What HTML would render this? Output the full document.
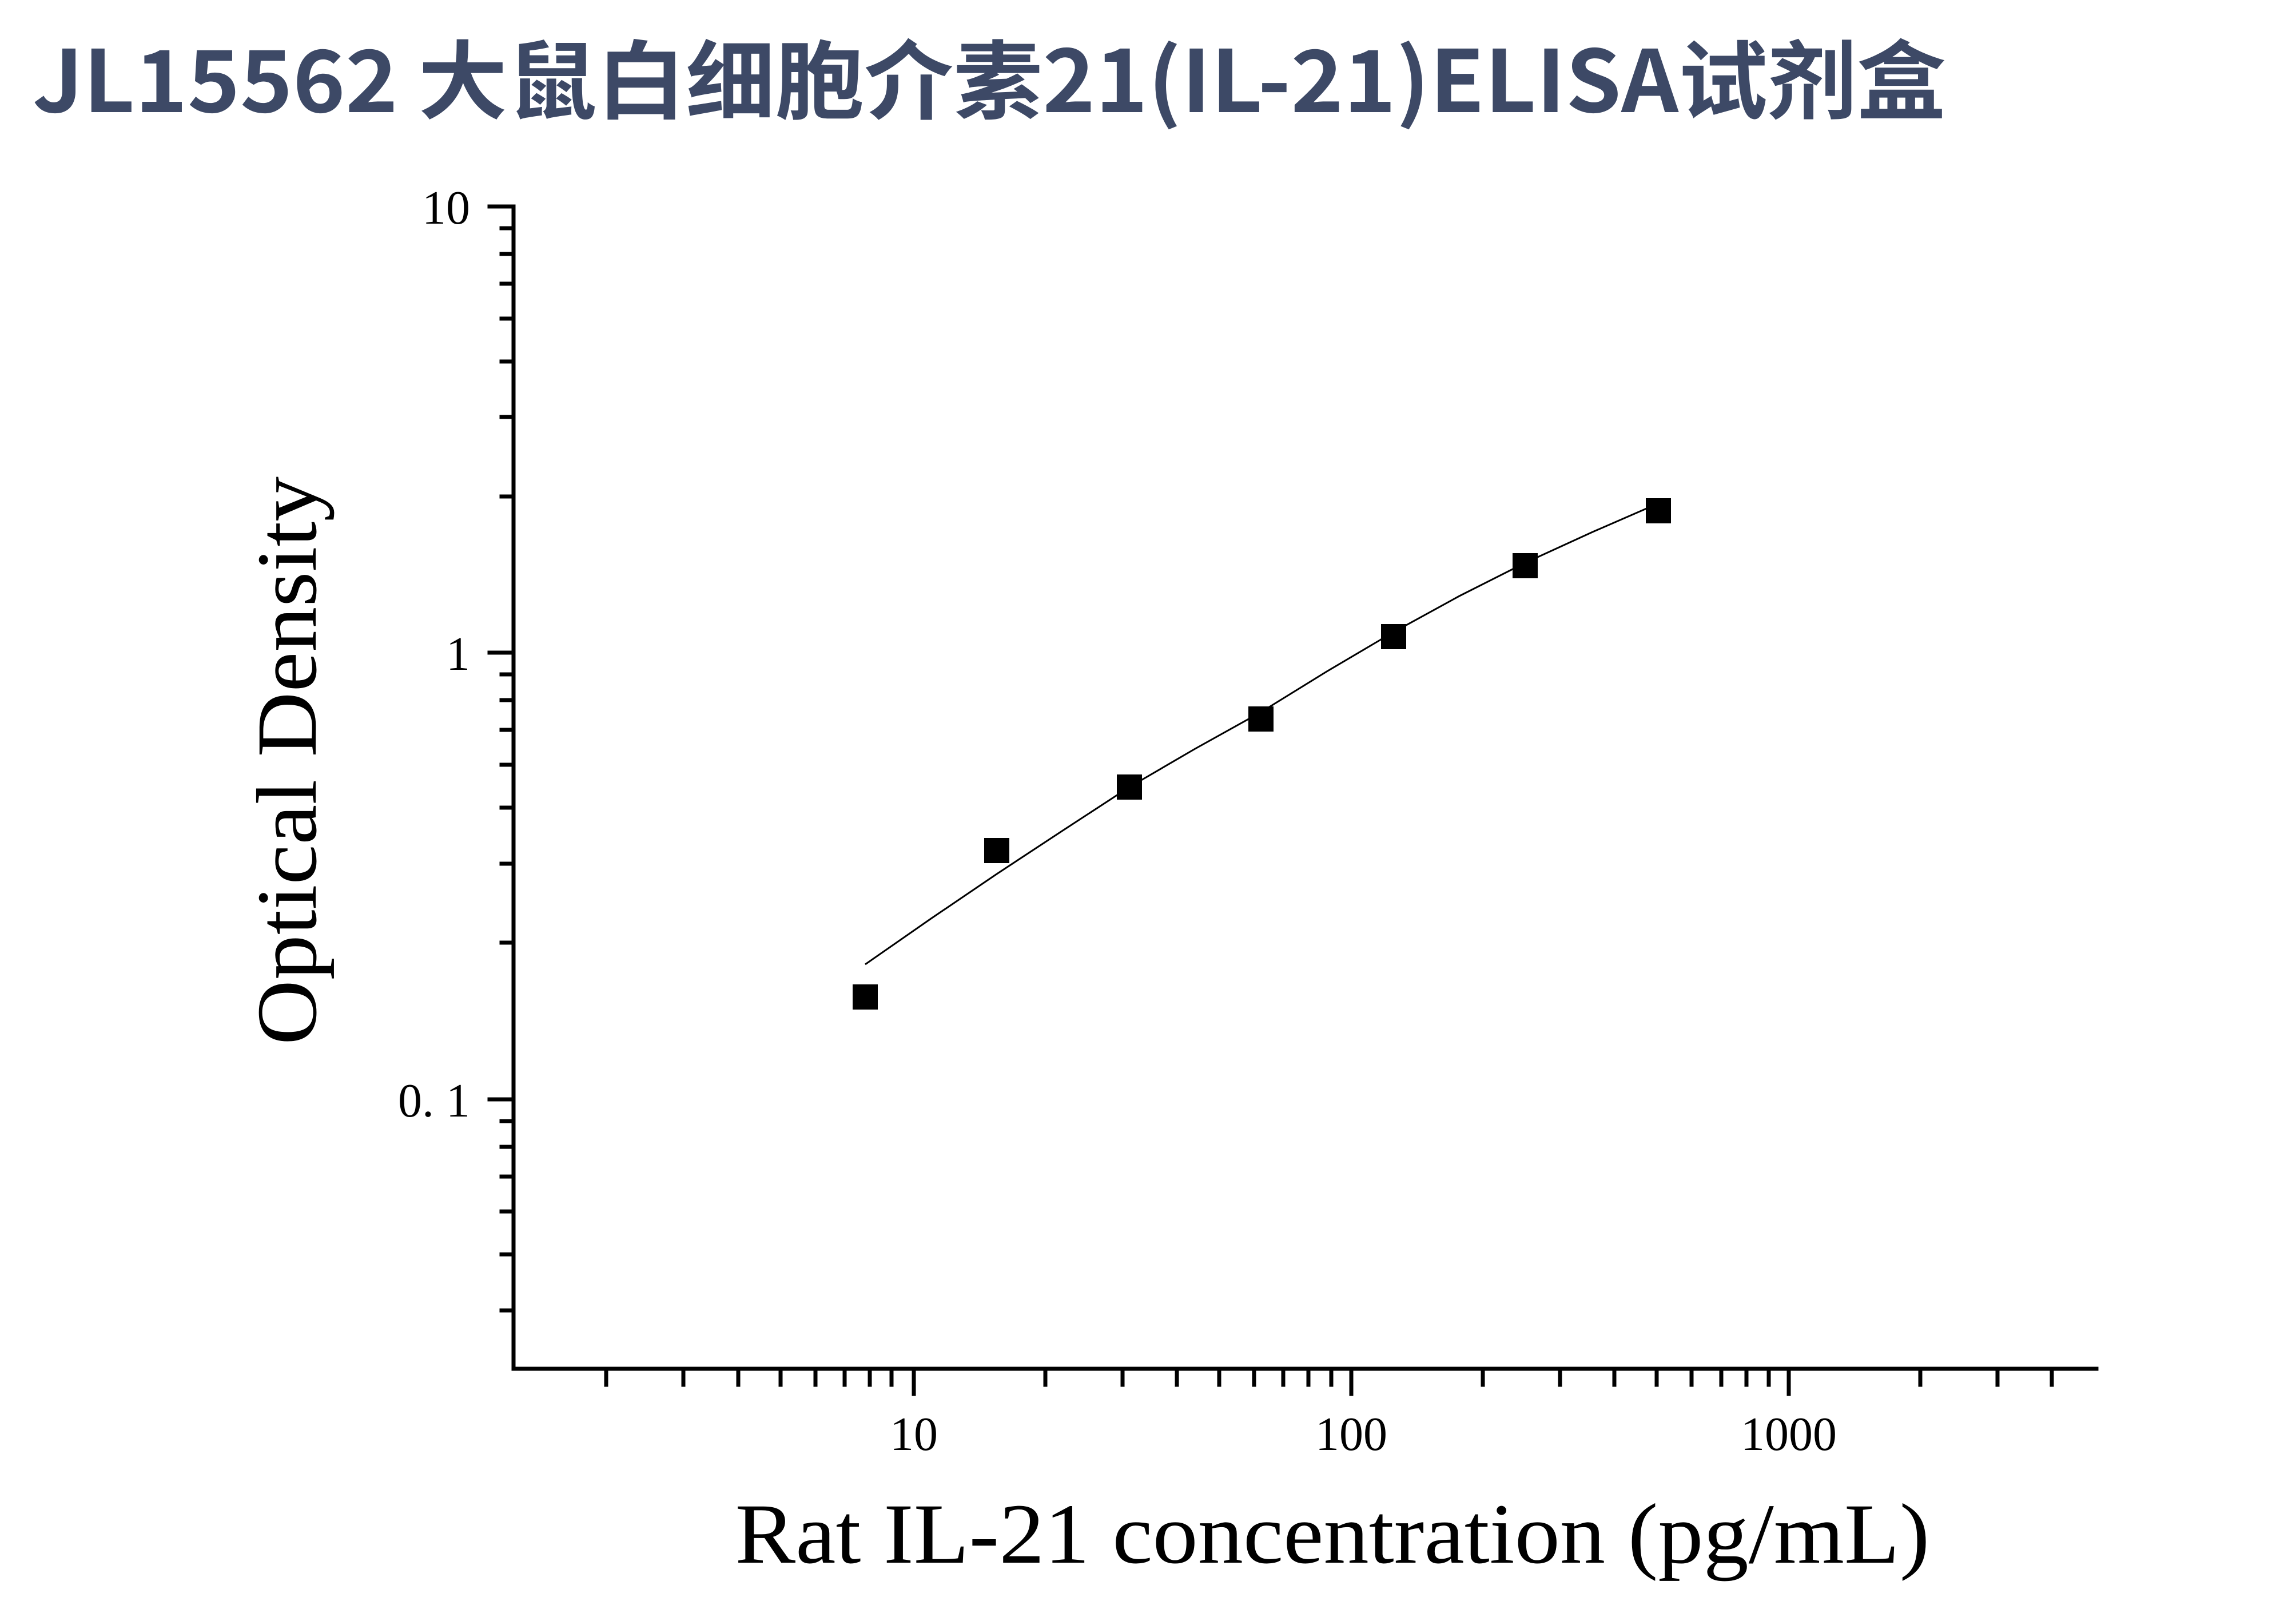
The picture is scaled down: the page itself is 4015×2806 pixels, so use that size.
<!DOCTYPE html>
<html><head><meta charset="utf-8"><style>
html,body{margin:0;padding:0;background:#fff;}
svg{display:block;}
</style></head><body>
<svg width="4015" height="2806" xmlns="http://www.w3.org/2000/svg">
<text x="57" y="196" font-family="'Noto Sans CJK SC', sans-serif" font-weight="bold" font-size="150" fill="#3d4966" textLength="3346" lengthAdjust="spacingAndGlyphs">JL15562 大鼠白细胞介素21(IL-21)ELISA试剂盒</text>
<g stroke="#000" stroke-width="7" fill="none" stroke-linecap="square">
<path d="M898,361 V2393 H3666"/>
<path d="M856,361 H898 M856,1141 H898 M856,1922 H898"/>
<path d="M877,399 H898 M877,444 H898 M877,496 H898 M877,557 H898 M877,632 H898 M877,729 H898 M877,868 H898
M877,1179 H898 M877,1224 H898 M877,1276 H898 M877,1337 H898 M877,1412 H898 M877,1510 H898 M877,1648 H898
M877,1960 H898 M877,2005 H898 M877,2057 H898 M877,2118 H898 M877,2193 H898 M877,2291 H898"/>
<path d="M1598,2393 V2437 M2363,2393 V2437 M3128,2393 V2437"/>
<path d="M1060,2393 V2421 M1195,2393 V2421 M1291,2393 V2421 M1365,2393 V2421 M1426,2393 V2421 M1477,2393 V2421 M1521,2393 V2421 M1559,2393 V2421
M1828,2393 V2421 M1963,2393 V2421 M2058,2393 V2421 M2132,2393 V2421 M2193,2393 V2421 M2244,2393 V2421 M2288,2393 V2421 M2328,2393 V2421
M2593,2393 V2421 M2728,2393 V2421 M2823,2393 V2421 M2897,2393 V2421 M2958,2393 V2421 M3010,2393 V2421 M3054,2393 V2421 M3093,2393 V2421
M3358,2393 V2421 M3493,2393 V2421 M3588,2393 V2421"/>
</g>
<g font-family="'Liberation Serif', serif" font-size="84" fill="#000">
<text x="822" y="391" text-anchor="end">10</text>
<text x="822" y="1171" text-anchor="end">1</text>
<text x="822" y="1952" text-anchor="end">0. 1</text>
<text x="1598" y="2535" text-anchor="middle">10</text>
<text x="2363" y="2535" text-anchor="middle">100</text>
<text x="3128" y="2535" text-anchor="middle">1000</text>
</g>
<path d="M1513,1686 L1628,1606 L1743,1528 L1860,1451 L1975,1376 L2090,1309 L2205,1245 L2320,1174 L2437,1105 L2552,1042 L2667,984 L2785,930 L2900,880" stroke="#000" stroke-width="3" fill="none"/>
<g fill="#000">
<rect x="1491" y="1721" width="44" height="44"/>
<rect x="1721" y="1465" width="44" height="44"/>
<rect x="1953" y="1354" width="44" height="44"/>
<rect x="2183" y="1235" width="44" height="44"/>
<rect x="2415" y="1091" width="44" height="44"/>
<rect x="2645" y="967" width="44" height="44"/>
<rect x="2878" y="871" width="44" height="44"/>
</g>
<text transform="translate(552,1330) rotate(-90)" text-anchor="middle" font-family="'Liberation Serif', serif" font-size="150" textLength="994" lengthAdjust="spacingAndGlyphs">Optical Density</text>
<text x="2330" y="2732" text-anchor="middle" font-family="'Liberation Serif', serif" font-size="150" textLength="2089" lengthAdjust="spacingAndGlyphs">Rat IL-21 concentration (pg/mL)</text>
</svg>
</body></html>
